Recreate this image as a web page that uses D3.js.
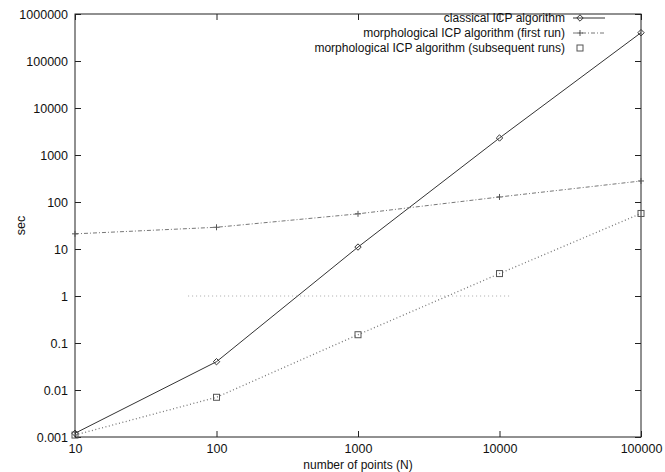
<!DOCTYPE html>
<html><head><meta charset="utf-8">
<script src="https://cdn.jsdelivr.net/npm/d3@7"></script>
<style>
html,body{margin:0;padding:0;background:#fff;}
text{font-family:"Liberation Sans",Arial,Helvetica,sans-serif;}
</style></head>
<body>
<svg id="chart" width="665" height="472"></svg>
<script>
// ---- data ----
const nPoints = [10, 100, 1000, 10000, 100000];
const classical = [0.0012, 0.04, 11, 2300, 400000];
const firstRun = [21, 29, 56, 128, 280];
const subsequent = [0.0011, 0.007, 0.15, 3, 57];
const seriesNames = ["classical ICP algorithm", "morphological ICP algorithm (first run)", "morphological ICP algorithm (subsequent runs)"];
const xTicks = [10, 100, 1000, 10000, 100000];
const yTicks = [0.001, 0.01, 0.1, 1, 10, 100, 1000, 10000, 100000, 1000000];
const yTickLabels = ["0.001", "0.01", "0.1", "1", "10", "100", "1000", "10000", "100000", "1000000"];
const refLineX = [63, 12000];
const refLineY = [1, 1];

const svg = d3.select("#chart");
const W = 665, H = 472;
const m = {left: 75, right: 24, top: 14, bottom: 35};
const x = d3.scaleLog().domain([10, 100000]).range([m.left, W - m.right]);
const y = d3.scaleLog().domain([0.001, 1000000]).range([H - m.bottom, m.top]);

const axisColor = "#222";
const fs = 12.5;

// frame
svg.append("rect").attr("x", x(10)).attr("y", y(1000000))
  .attr("width", x(100000) - x(10)).attr("height", y(0.001) - y(1000000))
  .attr("fill", "none").attr("stroke", axisColor).attr("stroke-width", 1);

// axes (ticks inward)
const tl = 6;
const gL = svg.append("g").attr("transform", `translate(${x(10)},0)`)
  .call(d3.axisLeft(y).tickValues(yTicks).tickSize(-tl).tickPadding(7).tickFormat((d, i) => yTickLabels[i]));
const gR = svg.append("g").attr("transform", `translate(${x(100000)},0)`)
  .call(d3.axisRight(y).tickValues(yTicks).tickSize(-tl).tickFormat(""));
const gB = svg.append("g").attr("transform", `translate(0,${y(0.001)})`)
  .call(d3.axisBottom(x).tickValues(xTicks).tickSize(-tl).tickPadding(7).tickFormat(d3.format("d")));
const gT = svg.append("g").attr("transform", `translate(0,${y(1000000)})`)
  .call(d3.axisTop(x).tickValues(xTicks).tickSize(-tl).tickFormat(""));
[gL, gR, gB, gT].forEach(g => {
  g.select(".domain").remove();
  g.selectAll("line").attr("stroke", axisColor);
  g.selectAll("text").attr("font-size", fs).attr("fill", "#111")
    .attr("font-family", "'Liberation Sans',Arial,sans-serif");
});

// axis titles
svg.append("text").attr("x", (x(10) + x(100000)) / 2).attr("y", H - 3)
  .attr("text-anchor", "middle").attr("font-size", 12).attr("fill", "#111")
  .text("number of points (N)");
svg.append("text").attr("transform", `translate(25,${(y(0.001) + y(1000000)) / 2}) rotate(-90)`)
  .attr("text-anchor", "middle").attr("font-size", fs).attr("fill", "#111")
  .text("sec");

// faint reference line at 1
svg.append("line").attr("x1", x(refLineX[0])).attr("x2", x(refLineX[1]))
  .attr("y1", y(refLineY[0])).attr("y2", y(refLineY[1]))
  .attr("stroke", "#aaa").attr("stroke-width", 1).attr("stroke-dasharray", "1,3");

const line = d3.line().x(d => x(d[0])).y(d => y(d[1]));
const styles = [
  {color: "#333", dash: null, width: 1},
  {color: "#777", dash: "4,2,1,2", width: 1},
  {color: "#777", dash: "1,2.5", width: 1.3}
];
const allSeries = [classical, firstRun, subsequent];

function marker(g, type, cx, cy, color) {
  if (type === 0) {
    const s = 3.2;
    g.append("path").attr("d", `M${cx},${cy - s}L${cx + s},${cy}L${cx},${cy + s}L${cx - s},${cy}Z`)
      .attr("fill", "none").attr("stroke", color).attr("stroke-width", 1);
  } else if (type === 1) {
    const s = 3;
    g.append("path").attr("d", `M${cx - s},${cy}H${cx + s}M${cx},${cy - s}V${cy + s}`)
      .attr("stroke", color).attr("stroke-width", 1);
  } else {
    const s = 3;
    g.append("rect").attr("x", cx - s).attr("y", cy - s).attr("width", 2 * s).attr("height", 2 * s)
      .attr("fill", "none").attr("stroke", color).attr("stroke-width", 1);
  }
}

allSeries.forEach((vals, i) => {
  const pts = nPoints.map((n, j) => [n, vals[j]]);
  const st = styles[i];
  svg.append("path").attr("d", line(pts)).attr("fill", "none")
    .attr("stroke", st.color).attr("stroke-width", st.width)
    .attr("stroke-dasharray", st.dash);
  const g = svg.append("g");
  pts.forEach(p => marker(g, i, x(p[0]), y(p[1]), i === 0 ? "#333" : "#555"));
});

// legend
const legX = 565, legY0 = 18, legDy = 15;
seriesNames.forEach((name, i) => {
  const yy = legY0 + i * legDy;
  svg.append("text").attr("x", legX).attr("y", yy + 4).attr("text-anchor", "end")
    .attr("font-size", 12).attr("fill", "#111").text(name);
  const st = styles[i];
  const g = svg.append("g");
  if (i < 2) {
    g.append("line").attr("x1", legX + 8).attr("x2", legX + 40).attr("y1", yy).attr("y2", yy)
      .attr("stroke", st.color).attr("stroke-width", st.width).attr("stroke-dasharray", st.dash);
  }
  marker(g, i, legX + 15, yy, i === 0 ? "#333" : "#555");
});
</script>
</body></html>
